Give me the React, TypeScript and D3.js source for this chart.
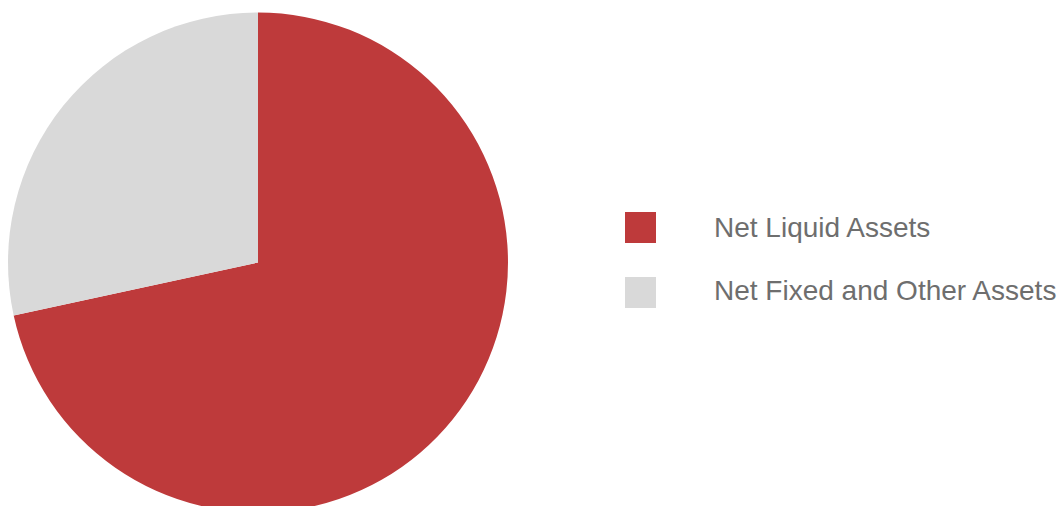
import React from "react";
import * as d3 from "d3";

const categories = ["Net Liquid Assets", "Net Fixed and Other Assets"];
const values = [71.6, 28.4];
const colors = ["#BE3A3B", "#D9D9D9"];

const W = 1064;
const H = 506;

export default function App() {
  const cx = 258;
  const cy = 262.5;
  const r = 250;
  const pie = d3.pie<number>().sort(null).value((d) => d);
  const arcs = pie(values);
  const arcGen = d3.arc<d3.PieArcDatum<number>>().innerRadius(0).outerRadius(r);

  return (
    <svg
      width={W}
      height={H}
      style={{ position: "absolute", left: 0, top: 0, background: "#fff" }}
    >
      <g transform={`translate(${cx},${cy})`}>
        {arcs.map((a, i) => (
          <path key={i} d={arcGen(a) || ""} fill={colors[i]} />
        ))}
      </g>
      {categories.map((c, i) => {
        const y = 212 + i * 65;
        return (
          <g key={c}>
            <rect x={625} y={y} width={31} height={31} fill={colors[i]} />
            <text
              x={714}
              y={y + 24.5 - i * 1.5}
              fontFamily="Liberation Sans, Arial, sans-serif"
              fontSize={28}
              fill="#6e6e6e"
            >
              {c}
            </text>
          </g>
        );
      })}
    </svg>
  );
}
